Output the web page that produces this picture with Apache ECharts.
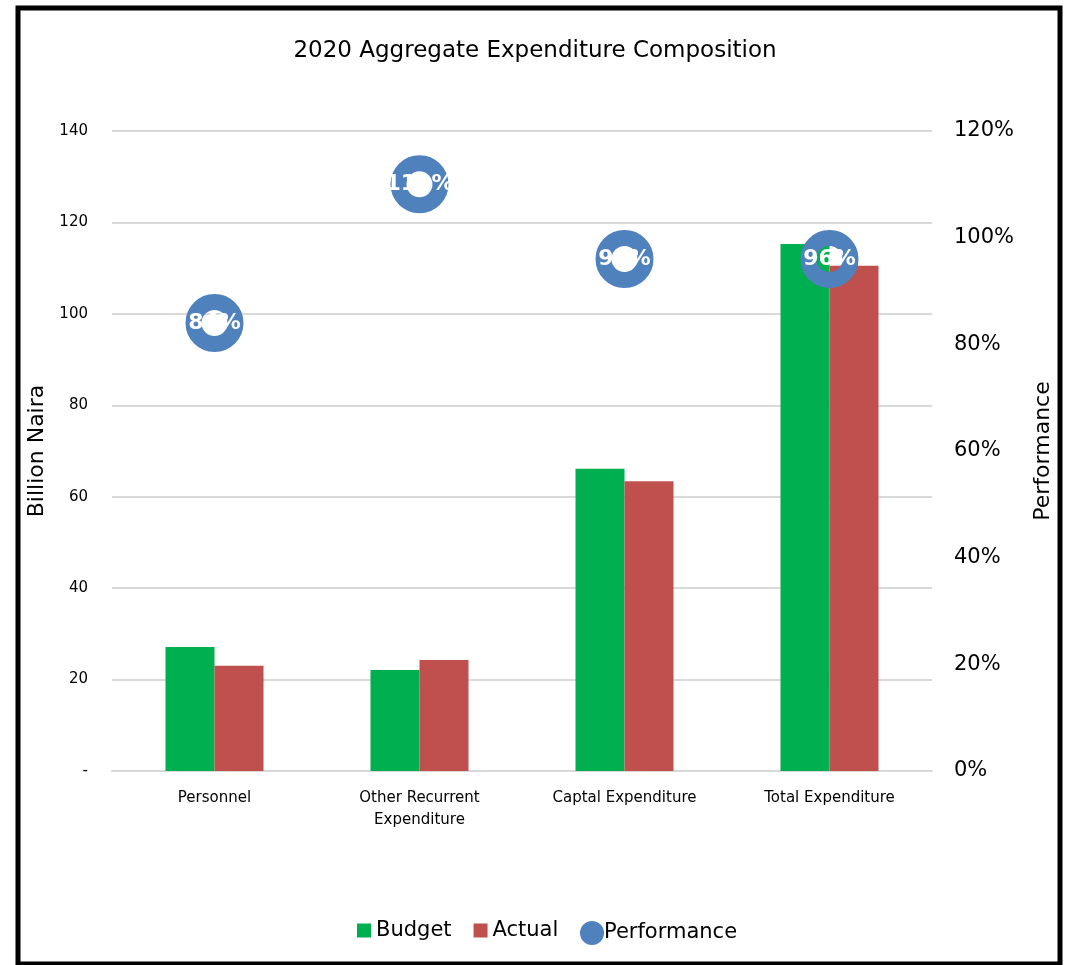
<!DOCTYPE html>
<html>
<head>
<meta charset="utf-8">
<script src="https://cdn.jsdelivr.net/npm/echarts@6/dist/echarts.min.js"></script>
<style>
    html, body {margin: 0; padding: 0; background: #fff;}
    #main {width: 1070px; height: 965px;}
</style>
</head>
<body>
<div id="main"></div>
<script>
    var categories = ['Personnel', 'Other Recurrent\nExpenditure', 'Captal Expenditure', 'Total Expenditure'];
    var budget = [27.1, 22.1, 66.1, 115.3];
    var actual = [23.0, 24.3, 63.4, 110.5];
    var performance = [0.84, 1.10, 0.96, 0.96];

    var font = 'DejaVu Sans';
    var myChart = echarts.init(document.getElementById('main'));

    var option = {
        backgroundColor: '#fff',
        textStyle: {fontFamily: font},
        title: {
            text: '2020 Aggregate Expenditure Composition',
            left: 'center',
            top: 35,
            textStyle: {fontFamily: font, fontSize: 23, fontWeight: 'normal', color: '#000'}
        },
        graphic: [{
            type: 'rect',
            shape: {x: 18, y: 8, width: 1042, height: 956},
            style: {fill: 'none', stroke: '#000', lineWidth: 5},
            silent: true
        }],
        legend: [{
            data: ['Budget', 'Actual'],
            left: 352,
            top: 915,
            itemWidth: 14,
            itemHeight: 14,
            itemGap: 22,
            icon: 'rect',
            textStyle: {fontFamily: font, fontSize: 21, color: '#000'}
        }, {
            data: [{name: 'Performance', itemStyle: {color: '#4F81BD', borderWidth: 0}}],
            left: 575,
            top: 916,
            itemWidth: 24,
            itemHeight: 24,
            icon: 'circle',
            textStyle: {fontFamily: font, fontSize: 21, color: '#000', padding: [0, 0, 0, -5]}
        }],
        grid: {left: 112, right: 138, top: 131, bottom: 194},
        xAxis: {
            type: 'category',
            data: categories,
            axisLine: {lineStyle: {color: '#d9d9d9', width: 2}},
            axisTick: {show: false},
            axisLabel: {fontFamily: font, fontSize: 15, color: '#000', margin: 16, lineHeight: 22}
        },
        yAxis: [{
            type: 'value',
            min: 0,
            max: 140,
            interval: 20,
            name: 'Billion Naira',
            nameLocation: 'middle',
            nameGap: 61,
            nameTextStyle: {fontFamily: font, fontSize: 22, color: '#000'},
            axisLine: {show: false},
            axisTick: {show: false},
            splitLine: {lineStyle: {color: '#d9d9d9', width: 2}},
            axisLabel: {
                fontFamily: font, fontSize: 15, color: '#000', margin: 24,
                formatter: function (v) { return v === 0 ? '-' : v; }
            }
        }, {
            type: 'value',
            min: 0,
            max: 1.2,
            interval: 0.2,
            name: 'Performance',
            nameLocation: 'middle',
            nameGap: 100,
            nameTextStyle: {fontFamily: font, fontSize: 22, color: '#000'},
            axisLine: {show: false},
            axisTick: {show: false},
            splitLine: {show: false},
            axisLabel: {
                fontFamily: font, fontSize: 21, color: '#000', margin: 22,
                formatter: function (v) { return Math.round(v * 100) + '%'; }
            }
        }],
        series: [{
            name: 'Budget',
            type: 'bar',
            data: budget,
            barWidth: 49,
            barGap: '0%',
            itemStyle: {color: '#00B050'}
        }, {
            name: 'Actual',
            type: 'bar',
            data: actual,
            barWidth: 49,
            itemStyle: {color: '#C0504D'}
        }, {
            name: 'Performance',
            type: 'scatter',
            yAxisIndex: 1,
            data: performance,
            symbol: 'circle',
            symbolSize: 42,
            itemStyle: {color: 'rgba(0,0,0,0)', borderColor: '#4F81BD', borderWidth: 16, opacity: 1},
            label: {
                show: true,
                position: 'inside',
                fontFamily: font,
                fontSize: 22,
                fontWeight: 'bold',
                color: '#fff',
                formatter: function (p) { return Math.round(p.value * 100) + '%'; }
            },
            z: 5
        }]
    };

    myChart.setOption(option);
</script>
</body>
</html>
